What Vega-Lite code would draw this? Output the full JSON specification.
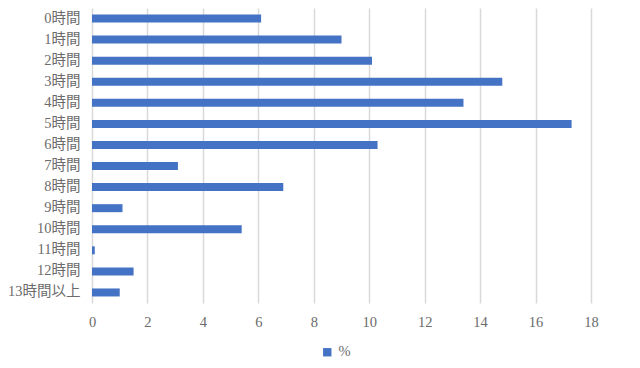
{
  "$schema": "https://vega.github.io/schema/vega-lite/v6.json",
  "width": 499,
  "height": 295,
  "autosize": {"type": "none"},
  "padding": {"left": 92, "top": 8, "right": 49, "bottom": 65},
  "background": "white",
  "config": {"view": {"stroke": null}, "font": "Liberation Serif, Noto Sans CJK JP"},
  "data": {"values": [
    {"label": "0時間", "value": 6.1, "series": "%"},
    {"label": "1時間", "value": 9.0, "series": "%"},
    {"label": "2時間", "value": 10.1, "series": "%"},
    {"label": "3時間", "value": 14.8, "series": "%"},
    {"label": "4時間", "value": 13.4, "series": "%"},
    {"label": "5時間", "value": 17.3, "series": "%"},
    {"label": "6時間", "value": 10.3, "series": "%"},
    {"label": "7時間", "value": 3.1, "series": "%"},
    {"label": "8時間", "value": 6.9, "series": "%"},
    {"label": "9時間", "value": 1.1, "series": "%"},
    {"label": "10時間", "value": 5.4, "series": "%"},
    {"label": "11時間", "value": 0.1, "series": "%"},
    {"label": "12時間", "value": 1.5, "series": "%"},
    {"label": "13時間以上", "value": 1.0, "series": "%"}
  ]},
  "mark": {"type": "bar", "height": 8},
  "encoding": {
    "y": {"field": "label", "type": "nominal", "sort": null, "title": null,
      "scale": {"paddingInner": 0, "paddingOuter": 0},
      "axis": {"domain": false, "ticks": false, "labelPadding": 12, "labelFontSize": 14.5, "labelColor": "#6b6b6b", "grid": false}},
    "x": {"field": "value", "type": "quantitative", "title": null,
      "scale": {"domain": [0, 18], "nice": false},
      "axis": {"values": [0,2,4,6,8,10,12,14,16,18], "labelFlush": false, "domain": false, "ticks": false, "labelPadding": 12, "labelFontSize": 14.5, "labelColor": "#6b6b6b", "gridColor": "#d9d9d9", "gridWidth": 1.5}},
    "color": {"field": "series", "type": "nominal", "title": null,
      "scale": {"range": ["#4472C4"]},
      "legend": {"orient": "none", "legendX": 228, "legendY": 337, "symbolType": "square", "symbolSize": 70, "labelFontSize": 14.5, "labelColor": "#6b6b6b", "symbolStrokeWidth": 0}}
  }
}
